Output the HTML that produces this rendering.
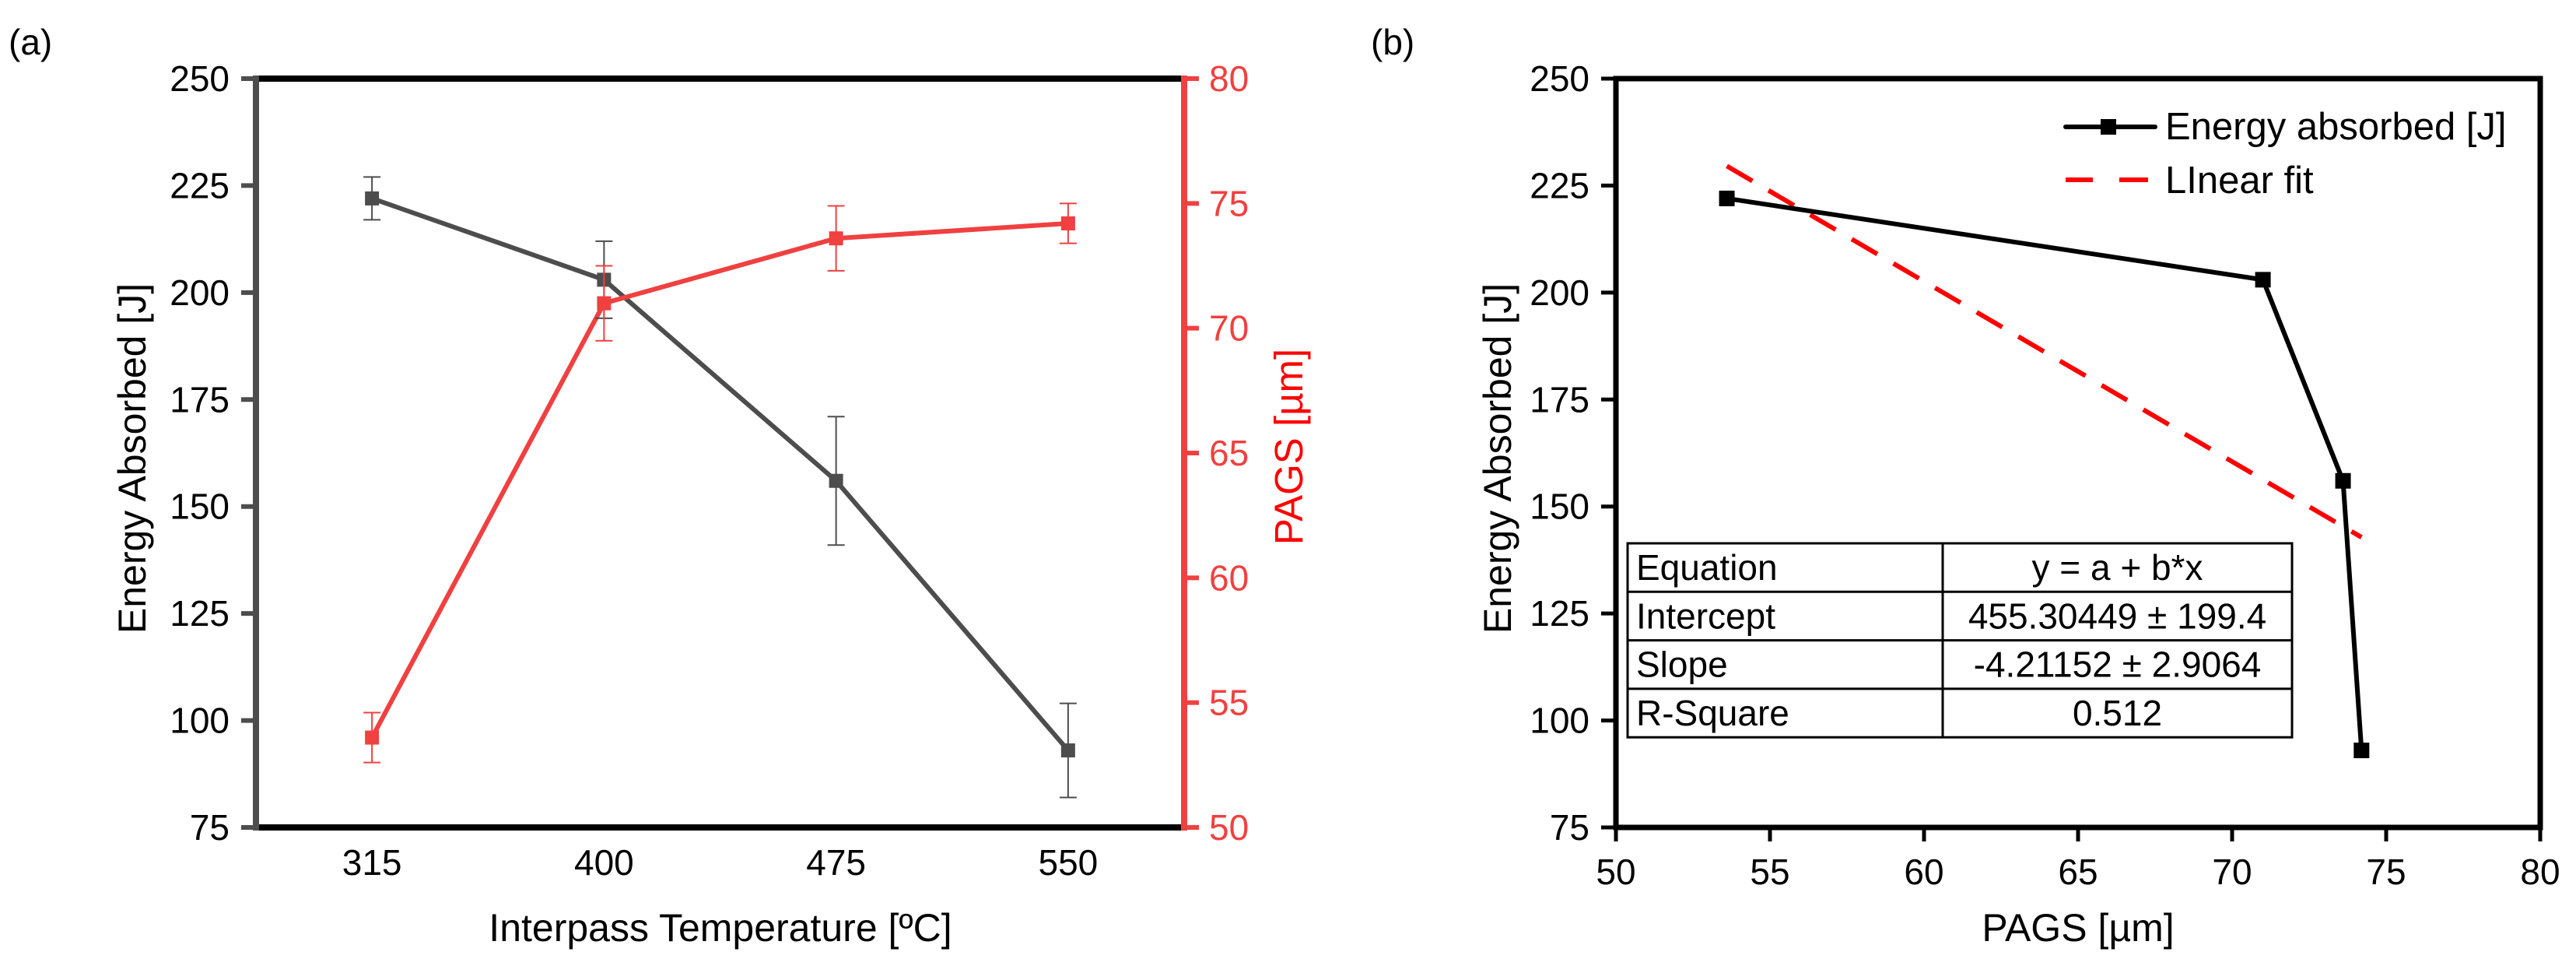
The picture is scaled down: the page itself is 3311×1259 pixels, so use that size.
<!DOCTYPE html>
<html><head><meta charset="utf-8"><style>
html,body{margin:0;padding:0;background:#fff;}
svg{display:block;font-family:"Liberation Sans",Arial,sans-serif;}
</style></head><body>
<svg id="chart" width="3311" height="1259" viewBox="0 0 3311 1259" xmlns="http://www.w3.org/2000/svg">
<g id="pa"></g>
<g id="pb"></g>
</svg>
<script>
const categories = ['315','400','475','550'];
const energy = [222, 203, 156, 93];
const energyErr = [5, 9, 15, 11];
const pags = [53.6, 71.0, 73.6, 74.2];
const pagsErr = [1.0, 1.5, 1.3, 0.8];
const leftTicks = [75,100,125,150,175,200,225,250];
const rightTicks = [50,55,60,65,70,75,80];
const bxTicks = [50,55,60,65,70,75,80];
const fitA = 455.30449;
const fitB = -4.21152;
const tableRows = [['Equation','y = a + b*x'],['Intercept','455.30449 ± 199.4'],['Slope','-4.21152 ± 2.9064'],['R-Square','0.512']];

const NS='http://www.w3.org/2000/svg';
function mk(parent, tag, attrs, text){
  const e=document.createElementNS(NS,tag);
  for(const k in attrs) e.setAttribute(k,attrs[k]);
  if(text!==undefined) e.textContent=text;
  parent.appendChild(e); return e;
}
const TOP=101, BOT=1063;
const yE = v => BOT - (v-75)/(250-75)*(BOT-TOP);
const yP = v => BOT - (v-50)/(80-50)*(BOT-TOP);

// ---------- Panel A ----------
const pa=document.getElementById('pa');
const AL=329, AR=1522;
const band=(AR-AL)/categories.length;
const xC = i => AL + band*(i+0.5);
const GREY='#4d4d4d', RED='#f04040';

let t=mk(pa,'text',{x:11,y:70,'font-size':46,fill:'#000'},'(a)');



// series lines
let ptsE=energy.map((v,i)=>xC(i)+','+yE(v)).join(' ');
let l=mk(pa,'polyline',{points:ptsE,fill:'none',stroke:GREY,'stroke-width':6});


let ptsP=pags.map((v,i)=>xC(i)+','+yP(v)).join(' ');
l=mk(pa,'polyline',{points:ptsP,fill:'none',stroke:RED,'stroke-width':6});



function errbar(g,x,y1,y2,col,name){
  const gg=mk(g,'g',{stroke:col,'stroke-width':2});
  
  
  mk(gg,'line',{x1:x,x2:x,y1:y1,y2:y2});
  mk(gg,'line',{x1:x-11,x2:x+11,y1:y1,y2:y1});
  mk(gg,'line',{x1:x-11,x2:x+11,y1:y2,y2:y2});
}
energy.forEach((v,i)=>{
  errbar(pa,xC(i),yE(v+energyErr[i]),yE(v-energyErr[i]),GREY,'energy-error-bar');
  const r=mk(pa,'rect',{x:xC(i)-9,y:yE(v)-9,width:18,height:18,fill:GREY});
  
  
});
pags.forEach((v,i)=>{
  errbar(pa,xC(i),yP(v+pagsErr[i]),yP(v-pagsErr[i]),RED,'pags-error-bar');
  const r=mk(pa,'rect',{x:xC(i)-9,y:yP(v)-9,width:18,height:18,fill:RED});
  
  
});

// axes frame
l=mk(pa,'line',{x1:AL,x2:AR,y1:TOP,y2:TOP,stroke:'#000','stroke-width':8});


l=mk(pa,'line',{x1:AL,x2:AR,y1:BOT,y2:BOT,stroke:'#000','stroke-width':8});


l=mk(pa,'line',{x1:AL,x2:AL,y1:TOP-4,y2:BOT+4,stroke:GREY,'stroke-width':8});


l=mk(pa,'line',{x1:AR,x2:AR,y1:TOP-4,y2:BOT+4,stroke:RED,'stroke-width':8});



leftTicks.forEach(v=>{
  const y=yE(v);
  mk(pa,'line',{x1:310,x2:AL,y1:y,y2:y,stroke:GREY,'stroke-width':6});
  const tt=mk(pa,'text',{x:295,y:y+16,'font-size':46,'text-anchor':'end',fill:'#000'},String(v));
  
  
});
rightTicks.forEach(v=>{
  const y=yP(v);
  mk(pa,'line',{x1:AR,x2:1541,y1:y,y2:y,stroke:RED,'stroke-width':6});
  const tt=mk(pa,'text',{x:1554,y:y+16,'font-size':46,fill:RED},String(v));
  
  
});
categories.forEach((c,i)=>{
  const tt=mk(pa,'text',{x:xC(i),y:1124,'font-size':46,'text-anchor':'middle',fill:'#000'},c);
  
  
});
t=mk(pa,'text',{x:0,y:0,'font-size':50,'text-anchor':'middle',fill:'#000',transform:'translate(187,589) rotate(-90)'},'Energy Absorbed [J]');


t=mk(pa,'text',{x:0,y:0,'font-size':51,'text-anchor':'middle',fill:'#ff0000',transform:'translate(1674,574) rotate(-90)'},'PAGS [µm]');


t=mk(pa,'text',{x:926,y:1209,'font-size':50,'text-anchor':'middle',fill:'#000'},'Interpass Temperature [ºC]');



// ---------- Panel B ----------
const pb=document.getElementById('pb');
const BL=2077, BR=3265;
const xB = v => BL + (v-50)/(80-50)*(BR-BL);

t=mk(pb,'text',{x:1762,y:70,'font-size':46,fill:'#000'},'(b)');



// fit line
const fx0=pags[0], fx1=pags[pags.length-1];
l=mk(pb,'line',{x1:xB(fx0),y1:yE(fitA+fitB*fx0),x2:xB(fx1),y2:yE(fitA+fitB*fx1),stroke:'#ff0000','stroke-width':6,'stroke-dasharray':'38,24'});



// table
const TX0=2092, TXM=2497, TX1=2946, TY0=698, RH=62.3;
const tbl=mk(pb,'g',{});


mk(tbl,'rect',{x:TX0,y:TY0,width:TX1-TX0,height:RH*tableRows.length,fill:'#fff',stroke:'#000','stroke-width':3});
mk(tbl,'line',{x1:TXM,x2:TXM,y1:TY0,y2:TY0+RH*tableRows.length,stroke:'#000','stroke-width':3});
tableRows.forEach((r,i)=>{
  if(i>0) mk(tbl,'line',{x1:TX0,x2:TX1,y1:TY0+RH*i,y2:TY0+RH*i,stroke:'#000','stroke-width':3});
  const a=mk(tbl,'text',{x:2103,y:TY0+RH*i+47,'font-size':46,fill:'#000'},r[0]);
  
  
  const b=mk(tbl,'text',{x:(TXM+TX1)/2,y:TY0+RH*i+47,'font-size':46,'text-anchor':'middle',fill:'#000'},r[1]);
  
  
});

// data line
l=mk(pb,'polyline',{points:pags.map((p,i)=>xB(p)+','+yE(energy[i])).join(' '),fill:'none',stroke:'#000','stroke-width':6});


pags.forEach((p,i)=>{
  const r=mk(pb,'rect',{x:xB(p)-10,y:yE(energy[i])-10,width:20,height:20,fill:'#000'});
  
  
});

// frame
const fr=mk(pb,'rect',{x:BL,y:TOP,width:BR-BL,height:BOT-TOP,fill:'none',stroke:'#000','stroke-width':7});


leftTicks.forEach(v=>{
  const y=yE(v);
  mk(pb,'line',{x1:2058,x2:BL,y1:y,y2:y,stroke:'#000','stroke-width':5});
  const tt=mk(pb,'text',{x:2043,y:y+16,'font-size':46,'text-anchor':'end',fill:'#000'},String(v));
  
  
});
bxTicks.forEach(v=>{
  const x=xB(v);
  mk(pb,'line',{x1:x,x2:x,y1:BOT,y2:BOT+18,stroke:'#000','stroke-width':5});
  const tt=mk(pb,'text',{x:x,y:1136,'font-size':46,'text-anchor':'middle',fill:'#000'},String(v));
  
  
});
t=mk(pb,'text',{x:0,y:0,'font-size':50,'text-anchor':'middle',fill:'#000',transform:'translate(1942,589) rotate(-90)'},'Energy Absorbed [J]');


t=mk(pb,'text',{x:2671,y:1209,'font-size':50,'text-anchor':'middle',fill:'#000'},'PAGS [µm]');



// legend
const lg=mk(pb,'g',{});


mk(lg,'line',{x1:2655,x2:2770,y1:163,y2:163,stroke:'#000','stroke-width':6,'stroke-linecap':'round'});
mk(lg,'rect',{x:2700,y:153,width:20,height:20,fill:'#000'});
let le=mk(lg,'text',{x:2783,y:179,'font-size':49,fill:'#000'},'Energy absorbed [J]');


mk(lg,'line',{x1:2655,x2:2690,y1:231,y2:231,stroke:'#ff0000','stroke-width':6});
mk(lg,'line',{x1:2724,x2:2761,y1:231,y2:231,stroke:'#ff0000','stroke-width':6});
le=mk(lg,'text',{x:2783,y:248,'font-size':49,fill:'#000'},'LInear fit');


</script>
</body></html>
